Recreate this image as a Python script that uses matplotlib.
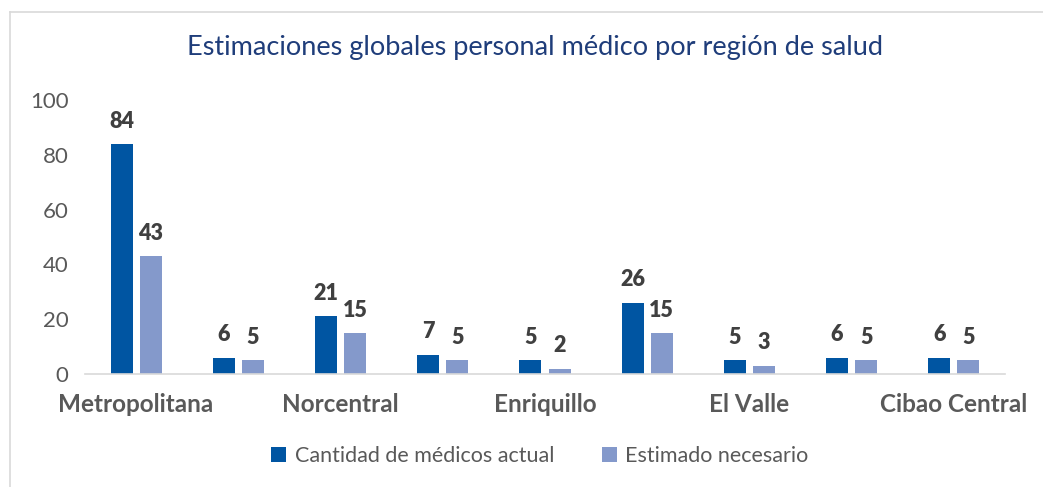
import matplotlib
matplotlib.use("Agg")
import matplotlib.pyplot as plt
import numpy as np
from matplotlib.lines import Line2D

categories = ["Metropolitana", "Valdesia", "Norcentral", "Nordeste", "Enriquillo",
              "Este", "El Valle", "Noroeste", "Cibao Central"]
tick_labels = ["Metropolitana", "", "Norcentral", "", "Enriquillo", "", "El Valle", "", "Cibao Central"]
actual = [84, 6, 21, 7, 5, 26, 5, 6, 6]
estimado = [43, 5, 15, 5, 2, 15, 3, 5, 5]
series_names = ["Cantidad de médicos actual", "Estimado necesario"]
title = "Estimaciones globales personal médico por región de salud"

plt.rcParams['font.family'] = ['Lato', 'DejaVu Sans']

W, H = 1043, 487
fig = plt.figure(figsize=(W/100, H/100), dpi=100)
ax = fig.add_axes([85/W, 1-374/H, 920/W, (374-100)/H])

x = np.arange(len(categories))
bw = 0.215
gap = 0.07
c1 = "#0055A2"
c2 = "#8499CB"
b1 = ax.bar(x - (bw+gap)/2, actual, bw, color=c1, label=series_names[0])
b2 = ax.bar(x + (bw+gap)/2, estimado, bw, color=c2, label=series_names[1])

for bars, vals in ((b1, actual), (b2, estimado)):
    for r, v in zip(bars, vals):
        ax.text(r.get_x()+r.get_width()/2, v + 4.5, str(v), ha='center', va='bottom',
                fontsize=15.5, fontweight='heavy', color="#404040")

ax.set_xlim(-0.5, len(categories)-0.5)
ax.set_ylim(0, 100)
ax.set_yticks([0, 20, 40, 60, 80, 100])
ax.set_xticks(x)
ax.set_xticklabels(tick_labels, fontsize=17.5, fontweight='bold', color="#595959")
ax.tick_params(axis='x', length=0, pad=14)
ax.tick_params(axis='y', length=0, pad=12, labelsize=16, labelcolor="#595959")
for s in ['top', 'right', 'left']:
    ax.spines[s].set_visible(False)
ax.spines['bottom'].set_color("#D9D9D9")
ax.spines['bottom'].set_linewidth(1.2)

fig.text(535/W, 1-48/H, title, ha='center', va='center',
         fontsize=19.5, color="#1F3D7A")

leg = fig.legend(handles=[b1, b2], loc='center', bbox_to_anchor=(540/W, 1-456/H), ncol=2,
                 frameon=False, fontsize=15.5, handlelength=0.7, handleheight=0.7,
                 columnspacing=2.2, handletextpad=0.4)
for t in leg.get_texts():
    t.set_color("#595959")

# chart border (top and left visible)
fig.add_artist(Line2D([10/W, 10/W], [0, 1-12/H], transform=fig.transFigure, color="#D9D9D9", lw=1.2))
fig.add_artist(Line2D([10/W, 1], [1-12/H, 1-12/H], transform=fig.transFigure, color="#D9D9D9", lw=1.2))

fig.savefig("out.png", dpi=100)
